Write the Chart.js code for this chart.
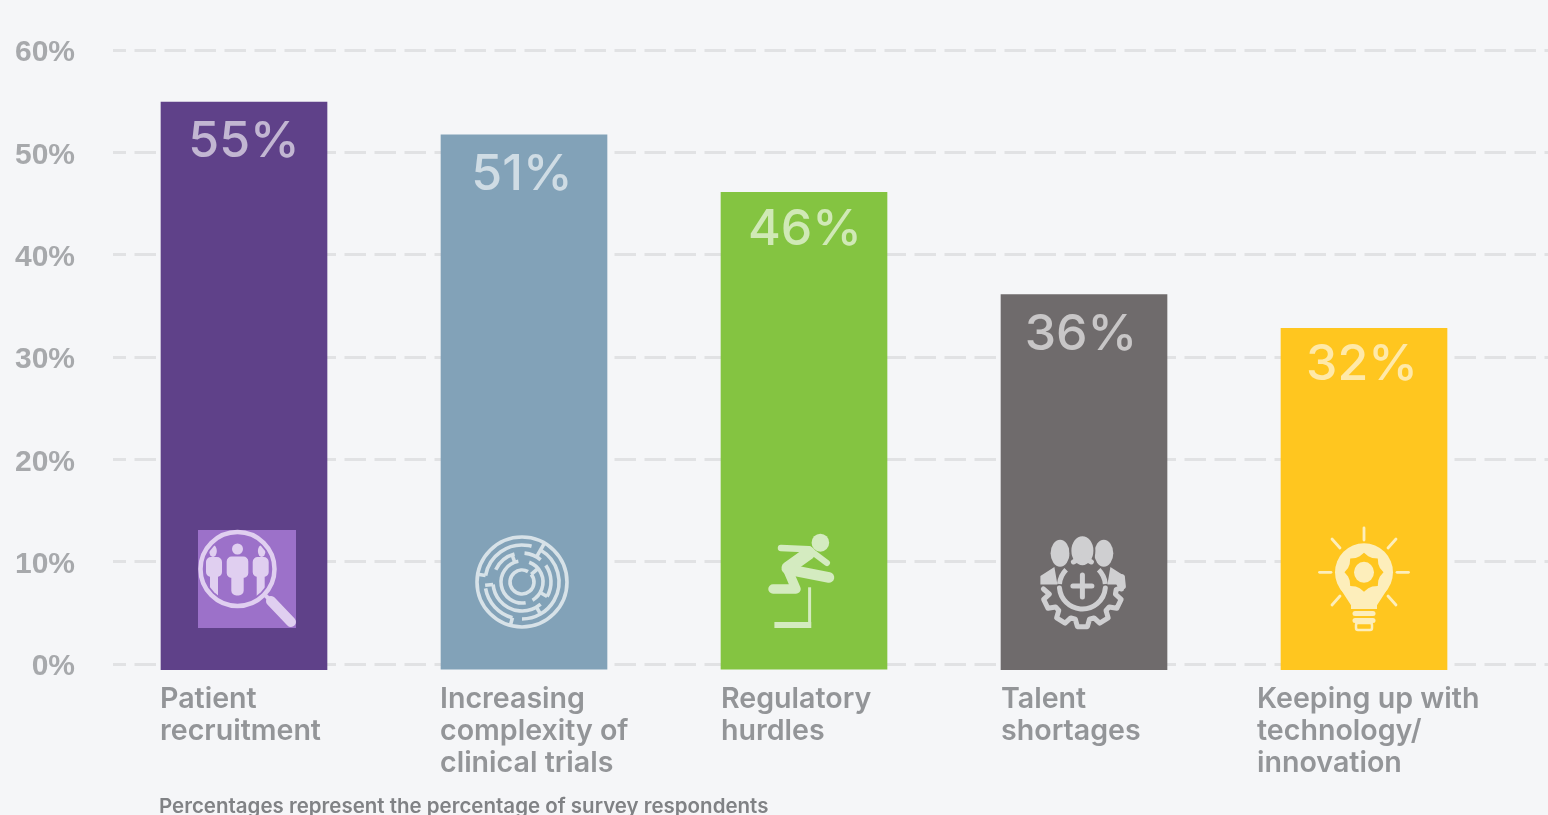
<!DOCTYPE html>
<html>
<head>
<meta charset="utf-8">
<title>Challenges</title>
<script src="https://cdn.jsdelivr.net/npm/chart.js@4"></script>
<style>
  html, body { margin: 0; padding: 0; background: #f5f6f8; overflow: hidden; }
  canvas { display: block; }
</style>
</head>
<body>
<canvas id="chart" width="1548" height="815"></canvas>
<script>
// Datos
const categories = [
    ['Patient', 'recruitment'],
    ['Increasing', 'complexity of', 'clinical trials'],
    ['Regulatory', 'hurdles'],
    ['Talent', 'shortages'],
    ['Keeping up with', 'technology/', 'innovation']
];
const valueLabels = ['55%', '51%', '46%', '36%', '32%'];
// top and bottom of each bar as drawn, read against the axis
const barTops = [54.9, 51.7, 46.1, 36.1, 32.8];
const barBottoms = [-0.55, -0.5, -0.5, -0.55, -0.55];
const barColors = ['#5f4189', '#82a2b8', '#84c441', '#6f6b6c', '#ffc61f'];
const yTicks = [0, 10, 20, 30, 40, 50, 60];
const footnote = 'Percentages represent the percentage of survey respondents';

const CATEGORY_FONT = '600 28.6px Inter';
const LABEL_FONT = '500 50px Inter';

function line(ctx, pts, width, cap) {
    ctx.lineWidth = width;
    ctx.lineCap = cap || 'round';
    ctx.lineJoin = 'round';
    ctx.beginPath();
    pts.forEach((p, i) => i ? ctx.lineTo(p[0], p[1]) : ctx.moveTo(p[0], p[1]));
    ctx.stroke();
}

function ellipse(ctx, x, y, rx, ry) {
    ctx.beginPath();
    ctx.ellipse(x, y, rx, ry, 0, 0, Math.PI * 2);
    ctx.fill();
}

function arc(ctx, r, from, to, cx, cy) {
    ctx.beginPath();
    ctx.arc(cx, cy, r, from * Math.PI / 180, to * Math.PI / 180);
    ctx.stroke();
}

// Iconos: origen en el centro de la barra, sobre la linea del cero
const icons = [
    function magnifier(ctx) {
        ctx.fillStyle = '#9c71c9';
        ctx.fillRect(-46, -134, 98, 98);
        ctx.save();
        ctx.beginPath();
        ctx.arc(-6.5, -95, 33, 0, Math.PI * 2);
        ctx.clip();
        ctx.fillStyle = '#e0cff0';
        ellipse(ctx, -6.5, -115, 5.5, 5.5);
        ctx.beginPath();
        ctx.roundRect(-17.3, -107.5, 21.6, 21.5, 5);
        ctx.roundRect(-12.7, -100, 12.4, 31.5, 5);
        ctx.fill();
        [-38, 8.7].forEach((x, i) => {
            ctx.beginPath();
            ctx.roundRect(x, -107, 16, 20, 5);
            ctx.roundRect(x + 4, -100, 8, 35, 3);
            ctx.fill();
            ellipse(ctx, i ? 17.7 : -31, -113, 3.8, 6);
        });
        ctx.restore();
        ctx.strokeStyle = '#e0cff0';
        ctx.beginPath();
        ctx.lineWidth = 4.5;
        ctx.arc(-6.5, -95, 37, 0, Math.PI * 2);
        ctx.stroke();
        line(ctx, [[22, -68], [26, -64]], 4);
        line(ctx, [[27, -63], [47, -42]], 10);
    },
    function maze(ctx) {
        const cx = -2, cy = -82;
        ctx.strokeStyle = '#d7e2e8';
        ctx.lineWidth = 3.6;
        ctx.lineCap = 'butt';
        arc(ctx, 45, 0, 360, cx, cy);
        [[-60, 90], [105, 170], [190, 285]].forEach(a => arc(ctx, 37, a[0], a[1], cx, cy));
        [[-35, 30], [50, 175], [205, 255], [275, 310]].forEach(a => arc(ctx, 29, a[0], a[1], cx, cy));
        [[-70, 60], [80, 260]].forEach(a => arc(ctx, 21, a[0], a[1], cx, cy));
        arc(ctx, 12, -40, 300, cx, cy);
        // paredes radiales
        [[-60, 29, 45], [175, 29, 37], [105, 37, 45], [190, 37, 45], [30, 21, 29], [250, 21, 29], [60, 29, 37], [-40, 12, 21]].forEach(w => {
            const a = w[0] * Math.PI / 180;
            line(ctx, [[cx + w[1] * Math.cos(a), cy + w[1] * Math.sin(a)],
                       [cx + w[2] * Math.cos(a), cy + w[2] * Math.sin(a)]], 3.6, 'butt');
        });
    },
    function hurdler(ctx) {
        ctx.fillStyle = ctx.strokeStyle = '#d4ebc0';
        ellipse(ctx, 16.4, -121.3, 8.8, 9);
        line(ctx, [[-23, -116], [5, -114.7]], 6.5);
        line(ctx, [[5, -111], [-16, -96]], 13);
        line(ctx, [[9.7, -111], [23, -101]], 6);
        line(ctx, [[-8, -93], [25, -86.5]], 10.5);
        line(ctx, [[-17, -96], [-8, -75], [-31, -75]], 9.5);
        line(ctx, [[5.6, -76.7], [5.6, -36]], 3, 'butt');
        line(ctx, [[-29.6, -39], [7.2, -39]], 6, 'butt');
    },
    function team(ctx) {
        const cx = -1.6, cy = -78;
        ctx.fillStyle = ctx.strokeStyle = '#cfcfd1';
        ellipse(ctx, -23.9, -110.7, 9.5, 13.5);
        ellipse(ctx, 19.8, -110.7, 9.5, 13.5);
        ctx.strokeStyle = '#6f6b6c';
        ctx.lineWidth = 2;
        ctx.beginPath();
        ctx.ellipse(-1.6, -113.3, 12, 15.5, 0, 0, Math.PI * 2);
        ctx.fill();
        ctx.stroke();
        ctx.strokeStyle = '#cfcfd1';
        // hombros
        ctx.beginPath();
        ctx.moveTo(cx - 42, cy - 1.5);
        ctx.lineTo(cx - 42, cy - 10);
        ctx.lineTo(cx - 28, cy - 19);
        ctx.lineTo(cx - 25, cy - 1.5);
        ctx.closePath();
        ctx.moveTo(cx + 42, cy - 1.5);
        ctx.lineTo(cx + 42, cy - 10);
        ctx.lineTo(cx + 28, cy - 19);
        ctx.lineTo(cx + 25, cy - 1.5);
        ctx.closePath();
        ctx.fill();
        ctx.lineWidth = 5;
        arc(ctx, 23, 185, 225, cx, cy);
        arc(ctx, 23, 315, 355, cx, cy);
        line(ctx, [[cx - 9, cy - 24], [cx, cy - 29], [cx + 9, cy - 24]], 5);
        // media rueda dentada
        ctx.lineWidth = 5;
        arc(ctx, 23, 5, 175, cx, cy);
        const pts = [[cx - 39, cy + 3]];
        for (let deg = 170; deg >= 10; deg -= 32) {
            const t = [deg - 4, deg - 9, deg - 23, deg - 28];
            const r = [34, 41, 41, 34];
            t.forEach((a, i) => pts.push([cx + r[i] * Math.cos(a * Math.PI / 180), cy + r[i] * Math.sin(a * Math.PI / 180)]));
        }
        pts.push([cx + 39, cy + 3]);
        line(ctx, pts, 5);
        // signo mas
        line(ctx, [[cx - 9.5, cy], [cx + 9.5, cy]], 5);
        line(ctx, [[cx, cy - 11], [cx, cy + 11]], 5);
    },
    function bulb(ctx) {
        const cy = -91.7;
        ctx.fillStyle = ctx.strokeStyle = '#fdeebb';
        ellipse(ctx, 0, cy, 29, 29);
        ctx.beginPath();
        ctx.moveTo(-24, cy + 16);
        ctx.lineTo(-13, cy + 33);
        ctx.lineTo(-13, -55);
        ctx.lineTo(13, -55);
        ctx.lineTo(13, cy + 33);
        ctx.lineTo(24, cy + 16);
        ctx.closePath();
        ctx.fill();
        [-50.5, -43.5].forEach(y => line(ctx, [[-9, y], [9, y]], 5));
        ctx.lineWidth = 2.5;
        ctx.beginPath();
        ctx.roundRect(-8, -41, 16, 7, 2);
        ctx.stroke();
        // rayos
        line(ctx, [[0, -136], [0, -124]], 2.8);
        line(ctx, [[-44.5, cy], [-33, cy]], 2.8);
        line(ctx, [[33, cy], [44.5, cy]], 2.8);
        line(ctx, [[-32, -125], [-24, -116]], 2.8);
        line(ctx, [[32, -125], [24, -116]], 2.8);
        line(ctx, [[-32, -59], [-24, -68]], 2.8);
        line(ctx, [[32, -59], [24, -68]], 2.8);
        // engrane interior
        ctx.fillStyle = '#ffc61f';
        ctx.beginPath();
        for (let i = 0; i < 24; i++) {
            const a = i * Math.PI / 12;
            const r = i % 3 === 0 ? 19.5 : 16.5;
            ctx.lineTo(r * Math.cos(a), cy + r * Math.sin(a));
        }
        ctx.closePath();
        ctx.fill();
        ctx.fillStyle = '#fdeebb';
        ellipse(ctx, 0, cy, 10, 10.5);
    }
];

const labelOffsets = [0, -2, 1, -3, -2];
const labelDrops = [55, 55, 53, 55, 52];
const categoryOffsets = [-84, -84, -83, -83, -107];

const overlay = {
    id: 'overlay',
    afterDatasetsDraw(chart) {
        const { ctx, scales: { x, y } } = chart;
        const zero = y.getPixelForValue(0);
        ctx.save();
        categories.forEach((lines, i) => {
            const cx = x.getPixelForValue(i);
            const top = y.getPixelForValue(barTops[i]);

            ctx.textBaseline = 'alphabetic';
            ctx.textAlign = 'center';
            ctx.font = LABEL_FONT;
            ctx.fillStyle = 'rgba(255,255,255,0.62)';
            ctx.fillText(valueLabels[i], cx + labelOffsets[i], top + labelDrops[i]);

            ctx.textAlign = 'left';
            ctx.font = CATEGORY_FONT;
            ctx.fillStyle = '#939598';
            lines.forEach((text, n) => {
                ctx.fillText(text, cx + categoryOffsets[i], 708 + n * 32);
            });

            ctx.save();
            ctx.translate(cx, zero);
            icons[i](ctx);
            ctx.restore();
        });
        ctx.textAlign = 'left';
        ctx.font = '600 20.5px Inter';
        ctx.fillStyle = '#808285';
        ctx.fillText(footnote, 159, 813);
        ctx.restore();
    }
};

new Chart(document.getElementById('chart').getContext('2d'), {
    type: 'bar',
    data: {
        datasets: [{
            data: categories.map((c, i) => ({ x: i, y: [barBottoms[i], barTops[i]] })),
            backgroundColor: barColors,
            barThickness: 166,
            borderWidth: 0,
            borderSkipped: false,
            clip: false
        }]
    },
    options: {
        responsive: false,
        animation: false,
        layout: { padding: { top: 50, bottom: 151, left: 0, right: 0 } },
        plugins: { legend: { display: false }, tooltip: { enabled: false } },
        scales: {
            x: {
                type: 'linear',
                offset: false,
                min: -131 / 280,
                max: 1304 / 280,
                display: true,
                grid: { display: false, drawTicks: false },
                border: { display: false },
                ticks: { display: false }
            },
            y: {
                min: 0,
                max: 60,
                afterBuildTicks: scale => { scale.ticks = yTicks.map(v => ({ value: v })); },
                afterFit: scale => { scale.width = 113; scale.paddingTop = 0; scale.paddingBottom = 0; },
                grid: { color: '#e1e2e4', lineWidth: 3, drawTicks: false },
                border: { display: false, dash: [21.5, 8.5], dashOffset: 8.5 },
                ticks: {
                    padding: 38,
                    labelOffset: 3,
                    color: '#a7a9ac',
                    font: { family: 'Liberation Sans', weight: 'bold', size: 30 },
                    callback: v => v + '%'
                }
            }
        }
    },
    plugins: [overlay]
});
</script>
</body>
</html>
